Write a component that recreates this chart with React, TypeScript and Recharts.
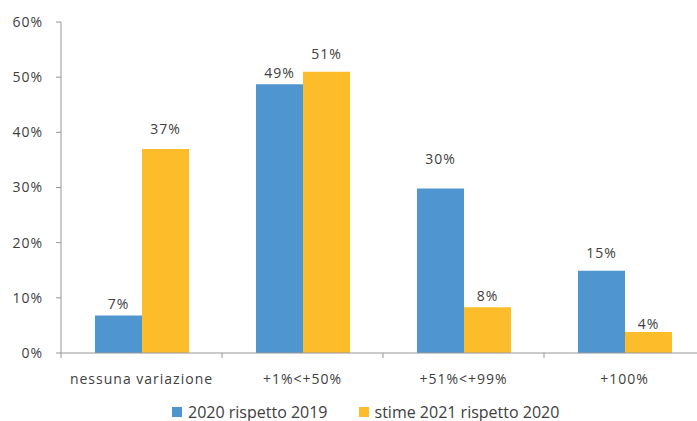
import React from 'react'
import { Bar, BarChart, LabelList, XAxis, YAxis } from 'recharts'

const categories = ['nessuna variazione', '+1%<+50%', '+51%<+99%', '+100%']
const values2020 = [6.8, 48.7, 29.8, 14.9]
const values2021 = [37, 51, 8.3, 3.8]
const yTicks = [0, 10, 20, 30, 40, 50, 60]
const seriesNames = ['2020 rispetto 2019', 'stime 2021 rispetto 2020']

// distance (px) between the top of each bar and its value label
const liftBlue = [12, 12, 30, 18]
const liftOrange = [20, 18, 12, 9]

const BLUE = '#4f96d0'
const ORANGE = '#fdbd2a'
const AXIS = '#969696'
const TEXT = '#404040'
const FONT = "'Open Sans', sans-serif"
const SPACING = 1

const CHART_W = 720
const CHART_H = 421
const MARGIN = { top: 22, right: 15, bottom: 38, left: 0 }
const Y_WIDTH = 61
const BAND = (CHART_W - MARGIN.right - Y_WIDTH) / categories.length

const data = categories.map((name, i) => ({
  name,
  a: values2020[i],
  b: values2021[i],
}))

const makeLabel =
  (lifts: number[]) =>
  (props: any): JSX.Element => {
    const { x, y, width, value, index } = props
    return (
      <text
        x={x + width / 2}
        y={y - lifts[index]}
        textAnchor='middle'
        dominantBaseline='central'
        fill={TEXT}
        fontSize={14}
        fontFamily={FONT}
        letterSpacing={SPACING}
      >
        {Math.round(value)}%
      </text>
    )
  }

const CategoryTick = (props: any): JSX.Element => {
  const { x, y, payload } = props
  const left = x - BAND / 2
  return (
    <g>
      <line x1={left} y1={y} x2={left} y2={y + 5} stroke={AXIS} />
      <text
        x={x}
        y={y + 25}
        textAnchor='middle'
        dominantBaseline='central'
        fill={TEXT}
        fontSize={14}
        fontFamily={FONT}
        letterSpacing={SPACING}
      >
        {payload.value}
      </text>
    </g>
  )
}

const LegendItem = ({ color, label }: { color: string; label: string }) => (
  <span style={{ display: 'inline-flex', alignItems: 'center' }}>
    <span
      style={{
        display: 'inline-block',
        width: 10,
        height: 10,
        background: color,
        marginRight: 6,
      }}
    />
    {label}
  </span>
)

const App = (): JSX.Element => (
  <div
    style={{
      position: 'fixed',
      left: 0,
      top: 0,
      width: 697,
      height: 421,
      overflow: 'hidden',
      background: '#fff',
    }}
  >
    <BarChart
      width={CHART_W}
      height={CHART_H}
      data={data}
      margin={MARGIN}
      barGap={0}
      barCategoryGap={34}
    >
      <XAxis
        dataKey='name'
        height={30}
        stroke={AXIS}
        tickLine={false}
        tickSize={0}
        tickMargin={0}
        tick={<CategoryTick />}
        interval={0}
      />
      <YAxis
        width={Y_WIDTH}
        domain={[0, 60]}
        ticks={yTicks}
        stroke={AXIS}
        tickSize={5}
        tickMargin={13}
        tickFormatter={(v: number) => `${v}%`}
        tick={{ fill: TEXT, fontSize: 14, fontFamily: FONT, letterSpacing: SPACING }}
      />
      <Bar dataKey='a' fill={BLUE} isAnimationActive={false}>
        <LabelList dataKey='a' content={makeLabel(liftBlue)} />
      </Bar>
      <Bar dataKey='b' fill={ORANGE} isAnimationActive={false}>
        <LabelList dataKey='b' content={makeLabel(liftOrange)} />
      </Bar>
    </BarChart>
    <div
      style={{
        position: 'absolute',
        left: 172,
        top: 404,
        height: 16,
        lineHeight: '16px',
        display: 'flex',
        gap: 31,
        fontFamily: FONT,
        fontSize: 16,
        color: TEXT,
        whiteSpace: 'nowrap',
      }}
    >
      <LegendItem color={BLUE} label={seriesNames[0]} />
      <LegendItem color={ORANGE} label={seriesNames[1]} />
    </div>
  </div>
)

export default App
